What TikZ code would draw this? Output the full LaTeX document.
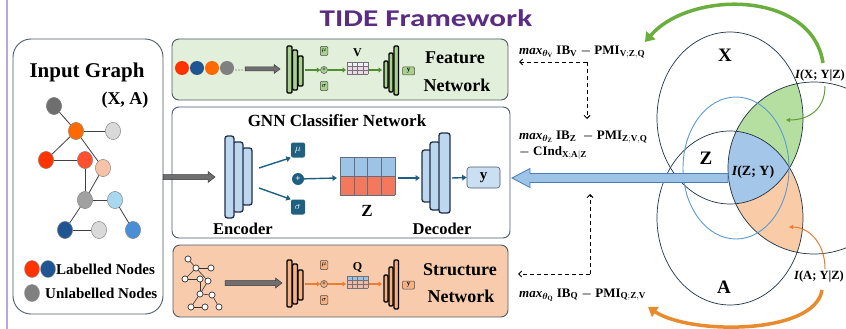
\documentclass[tikz,border=0pt]{standalone}
\usepackage{amsmath}
\usepackage{bm}
\usepackage{graphicx}
\usepackage{fontspec}
\setmainfont{Liberation Serif}
\newfontfamily\titlefont{Carlito}
\usetikzlibrary{arrows.meta,calc,shapes.geometric}
\definecolor{ttl}{HTML}{5B2C83}
\definecolor{lav}{HTML}{B9A6DC}
\definecolor{boxln}{HTML}{4F5B66}
\definecolor{fgreen}{HTML}{E2EFDA}
\definecolor{sorange}{HTML}{F8CBAD}
\definecolor{tealc}{HTML}{1F5F7F}
\definecolor{plblue}{HTML}{BDD7EE}
\definecolor{navy}{HTML}{1F2F4A}
\definecolor{zblue}{HTML}{9DC3E6}
\definecolor{zred}{HTML}{F4785C}
\definecolor{ggreen}{HTML}{A9D18E}
\definecolor{gdark}{HTML}{4E8F2E}
\definecolor{oarr}{HTML}{ED7D31}
\definecolor{obox}{HTML}{F4B183}
\definecolor{vgreen}{HTML}{B4DFA0}
\definecolor{vorange}{HTML}{F9CBA7}
\definecolor{vblue}{HTML}{A4C6E8}
\definecolor{vline}{HTML}{1F3344}
\definecolor{zline}{HTML}{5B9BD5}
\definecolor{bluedk}{HTML}{4A7EB5}
\definecolor{garr}{HTML}{6F6F6F}
\definecolor{garrd}{HTML}{3A3A3A}
\definecolor{vgarrow}{HTML}{6AAE3E}
\definecolor{voarrow}{HTML}{E88B2E}
\definecolor{vpink}{HTML}{EED8EA}
\definecolor{qpink}{HTML}{F2B8A8}
\definecolor{qblue}{HTML}{9DC3E6}
% sub-network (feature / structure)
\newcommand{\subnet}[7]{%
\begin{scope}[yshift=#2]
 \draw[plate,fill=#4] (298,56) rectangle (303,86);
 \draw[plate,fill=#4] (292.5,50) rectangle (297.5,90);
 \draw[plate,fill=#4] (287,46) rectangle (292,93);
 \coordinate (#1eo) at (305,70);
 \node[mbox,fill=#4] (#1mu) at (324,51) {$\mu$};
 \node[mcirc,fill=#4] (#1pl) at (324,70) {+};
 \node[mbox,fill=#4] (#1sg) at (324,86) {$\sigma$};
 \draw[marr,#3] (#1eo) -- (#1pl);
 \fill[#6] (347,62) rectangle (368,66);
 \fill[#7] (347,66) rectangle (368,74);
 \foreach \gx in {347,352.25,357.5,362.75,368} \draw[gl] (\gx,62) -- (\gx,74);
 \foreach \gy in {62,66,70,74} \draw[gl] (347,\gy) -- (368,\gy);
 \coordinate (#1gw) at (346,70);
 \coordinate (#1ge) at (369,70);
 \node[lbl=12] (#1lt) at (357.5,53) {#5};
 \draw[marr,#3] (#1pl) -- (#1gw);
 \coordinate (#1di) at (382,70);
 \draw[marr,#3] (#1ge) -- (#1di);
 \draw[plate,fill=#4] (384,61) rectangle (388,88);
 \draw[plate,fill=#4] (389,53) rectangle (393,92);
 \draw[plate,fill=#4] (394,46) rectangle (398.5,95);
 \node[ybox,fill=#4] (#1y) at (408.5,71) {y};
\end{scope}}
% fat right arrow: from, to, half shaft, half head, head length
\newcommand{\fatR}[5]{%
 \draw[fill=garr,draw=garrd,line width=0.5pt] ($(#1)+(0,-#3)$) -- ($(#2)+(-#5,-#3)$) -- ($(#2)+(-#5,-#4)$) -- (#2) -- ($(#2)+(-#5,#4)$) -- ($(#2)+(-#5,#3)$) -- ($(#1)+(0,#3)$) -- cycle;}
\newcommand{\mxf}[1]{\textbf{\textit{max}}$_{\bm{\theta}_{\mathbf{#1}}}$}
\begin{document}
\begin{tikzpicture}[x=1pt,y=-1pt,
 lbl/.style={font=\fontsize{#1}{#1}\selectfont\bfseries, inner sep=0pt},
 gn/.style={ellipse, minimum width=15pt, minimum height=17pt, inner sep=0pt, draw=black!45, line width=0.4pt},
 ge/.style={draw=black!75, line width=0.8pt},
 sn/.style={circle, minimum size=6pt, inner sep=0pt, fill=white, draw=black!80, line width=0.6pt},
 se/.style={draw=black!80, line width=0.6pt},
 bigbox/.style={draw=boxln, line width=0.9pt, rounded corners=7pt, inner sep=0pt},
 plate/.style={draw=black, line width=1.4pt, rounded corners=1.2pt},
 bplate/.style={draw=navy, line width=1.3pt, fill=plblue, rounded corners=2.5pt},
 marr/.style={line width=1.3pt, -{Triangle[length=3.5pt,width=5pt]}},
 tarr/.style={draw=tealc, line width=1.4pt, -{Triangle[length=4.5pt,width=5.5pt]}},
 darr/.style={draw=black, line width=0.9pt, dash pattern=on 4pt off 3pt, -{Straight Barb[length=3pt,width=6pt]}},
 gl/.style={draw=black!55, line width=0.35pt},
 mbox/.style={draw=black!70, line width=0.5pt, rounded corners=1pt, minimum width=7.5pt, minimum height=9pt, inner sep=0pt, font=\fontsize{7}{7}\selectfont},
 mcirc/.style={circle, draw=black!70, line width=0.5pt, minimum size=7pt, inner sep=0pt, font=\fontsize{6}{6}\selectfont\bfseries},
 ybox/.style={draw=black!70, line width=0.5pt, rounded corners=1pt, minimum width=12pt, minimum height=8pt, inner sep=0pt, font=\fontsize{7}{7}\selectfont\bfseries},
 tbox/.style={fill=tealc, rounded corners=2pt, minimum width=14pt, minimum height=15pt, inner sep=0pt, text=white, font=\fontsize{10}{10}\selectfont},
 fml/.style={anchor=west, inner sep=0pt, font=\fontsize{13}{13}\selectfont\bfseries},
 vl/.style={font=\fontsize{14}{14}\selectfont\bfseries, inner sep=0pt}
]
\useasboundingbox (0,0) rectangle (846,329);
% left purple line
\coordinate (lt) at (7,0); \coordinate (lb) at (7,329);
\draw[lav, line width=1.5pt] (lt) -- (lb);
% title
\node[font=\titlefont\fontsize{24}{26}\selectfont\bfseries, text=ttl, inner sep=0pt] (title) at (426,18) {\scalebox{1.3}[1]{TIDE Framework}};

% ===== Input graph =====
\node[bigbox, rounded corners=18pt, minimum width=150pt, minimum height=275pt, fill=white] (inbox) at (88,176.5) {};
\node[lbl=21] (ig) at (87,72) {Input Graph};
\node[lbl=18] (xa) at (125,100) {(X, A)};
\node[gn, fill=black!57] (n1) at (54,106) {};
\node[gn, fill={rgb,255:red,255;green,106;blue,0}] (n2) at (76,131) {};
\node[gn, fill=black!15] (n3) at (113,131) {};
\node[gn, fill={rgb,255:red,255;green,51;blue,0}] (n4) at (46,160) {};
\node[gn, fill={rgb,255:red,255;green,80;blue,48}] (n5) at (85,160) {};
\node[gn, fill={rgb,255:red,247;green,195;blue,168}] (n6) at (103,168) {};
\node[gn, fill=black!37] (n7) at (85,200) {};
\node[gn, fill={rgb,255:red,168;green,216;blue,240}] (n8) at (115,200) {};
\node[gn, fill={rgb,255:red,31;green,85;blue,144}] (n9) at (65,230) {};
\node[gn, fill=black!15] (n10) at (99,230) {};
\node[gn, fill={rgb,255:red,74;green,143;blue,214}] (n11) at (133,230) {};
\foreach \a/\b in {n1/n2,n2/n3,n2/n4,n4/n5,n2/n6,n5/n7,n6/n7,n7/n8,n7/n9,n9/n10,n8/n11}
  \draw[ge] (\a) -- (\b);
% redraw nodes over edges
\foreach \n/\c in {n1/black!57,n3/black!15,n7/black!37,n10/black!15}
  \node[gn, fill=\c] at (\n) {};
\node[gn, fill={rgb,255:red,255;green,106;blue,0}] at (n2) {};
\node[gn, fill={rgb,255:red,255;green,51;blue,0}] at (n4) {};
\node[gn, fill={rgb,255:red,255;green,80;blue,48}] at (n5) {};
\node[gn, fill={rgb,255:red,247;green,195;blue,168}] at (n6) {};
\node[gn, fill={rgb,255:red,168;green,216;blue,240}] at (n8) {};
\node[gn, fill={rgb,255:red,31;green,85;blue,144}] at (n9) {};
\node[gn, fill={rgb,255:red,74;green,143;blue,214}] at (n11) {};
% legend
\node[gn, fill={rgb,255:red,255;green,51;blue,0}] (lg1) at (32,269) {};
\node[gn, fill={rgb,255:red,31;green,85;blue,144}] (lg2) at (48,269) {};
\node[gn, fill=black!50] (lg3) at (32,293) {};
\node[lbl=15, anchor=west] (lgt1) at (56,269.5) {Labelled Nodes};
\node[lbl=15, anchor=west] (lgt2) at (45,293.5) {Unlabelled Nodes};

% ===== Feature network =====
\node[bigbox, fill=fgreen, minimum width=336pt, minimum height=61pt] (fbox) at (340,69.5) {};
\node[circle, minimum size=14pt, fill={rgb,255:red,255;green,51;blue,0}] (fc1) at (182,68) {};
\node[circle, minimum size=14pt, fill={rgb,255:red,31;green,85;blue,144}] (fc2) at (197,68) {};
\node[circle, minimum size=14pt, fill={rgb,255:red,255;green,106;blue,0}] (fc3) at (212,68) {};
\node[circle, minimum size=14pt, fill=black!50] (fc4) at (227,68) {};
\foreach \dx in {236,239,242} \fill[black!70] (\dx,70) circle (0.7pt);
\coordinate (fa1) at (245,69); \coordinate (fa2) at (280,69);
\fatR{fa1}{fa2}{2}{4.5}{6}
\subnet{f}{0pt}{gdark}{ggreen}{V}{vpink!80!blue!20}{vpink}
\node[lbl=18] (ft1) at (455,58) {Feature};
\node[lbl=18] (ft2) at (457,85) {Network};

% ===== Structure network =====
\node[bigbox, fill=sorange, minimum width=335pt, minimum height=72pt] (sbox) at (340.5,281) {};
\node[sn] (s1) at (188,259) {};
\node[sn] (s2) at (196,268) {};
\node[sn] (s3) at (211,268) {};
\node[sn] (s4) at (185,279) {};
\node[sn] (s5) at (200,279) {};
\node[sn] (s6) at (208,281) {};
\node[sn] (s7) at (200,294) {};
\node[sn] (s8) at (212,295) {};
\node[sn] (s9) at (191,307) {};
\node[sn] (s10) at (205,307) {};
\node[sn] (s11) at (219,307) {};
\foreach \a/\b in {s1/s2,s2/s3,s2/s4,s4/s5,s2/s6,s5/s7,s6/s7,s7/s8,s7/s9,s9/s10,s8/s11}
  \draw[se] (\a) -- (\b);
\foreach \n in {s1,s2,s3,s4,s5,s6,s7,s8,s9,s10,s11} \node[sn] at (\n) {};
\coordinate (sa1) at (225,283); \coordinate (sa2) at (282,283);
\fatR{sa1}{sa2}{2.5}{5}{6.5}
\subnet{q}{-214pt}{oarr}{obox}{Q}{qblue}{qpink}
\node[lbl=18] (st1) at (460,270) {Structure};
\node[lbl=18] (st2) at (461,296) {Network};

% ===== GNN classifier =====
\node[bigbox, draw=navy!80, fill=white, minimum width=338pt, minimum height=131pt] (gbox) at (341,172.5) {};
\node[lbl=17] (gt) at (337,121) {GNN Classifier Network};
\coordinate (ga1) at (163,177); \coordinate (ga2) at (215,177);
\fatR{ga1}{ga2}{2.5}{5.5}{7}
\draw[bplate] (242,148) rectangle (252,205);
\draw[bplate] (233,142) rectangle (243,212);
\draw[bplate] (225,136) rectangle (234,218);
\node[lbl=16.5] (enc) at (243,229) {Encoder};
\node[tbox] (gmu) at (298,150) {$\mu$};
\node[tbox, circle, minimum size=12pt, font=\fontsize{9}{9}\selectfont\bfseries] (gpl) at (298,179) {+};
\node[tbox] (gsg) at (298,207) {$\sigma$};
\coordinate (eo1) at (259,168); \coordinate (eo2) at (259,188);
\draw[tarr] (eo1) -- (gmu.south west);
\draw[tarr] (eo2) -- (gsg.north west);
\fill[zblue] (340,157) rectangle (395,176);
\fill[zred] (340,176) rectangle (395,195);
\foreach \gx in {340,353.75,367.5,381.25,395} \draw[draw=navy!70, line width=0.5pt] (\gx,157) -- (\gx,195);
\foreach \gy in {157,176,195} \draw[draw=navy!70, line width=0.5pt] (340,\gy) -- (395,\gy);
\coordinate (zw) at (337,178); \coordinate (ze) at (398,178);
\draw[tarr] (gpl) -- (zw);
\node[lbl=17] (zl) at (367,211) {Z};
\coordinate (dci) at (420,178);
\draw[tarr] (ze) -- (dci);
\draw[bplate] (422,150) rectangle (432,202);
\draw[bplate] (430,142) rectangle (440,210);
\draw[bplate] (439,133) rectangle (450,213);
\node[lbl=16.5] (dec) at (442,229) {Decoder};
\node[draw=navy!80, line width=0.6pt, fill=plblue!80!white, rounded corners=3pt, minimum width=33pt, minimum height=21pt, inner sep=0pt, font=\fontsize{15}{15}\selectfont\bfseries] (gy) at (483.5,177.5) {y};
\coordinate (dco) at (452,178);
\draw[tarr] (dco) -- (gy.west);

% ===== formulas and dashed arrows =====
\node[fml] (fv) at (519,52) {\mxf{V} \textbf{IB}$_{\mathbf{V}}$ $\bm{-}$ \textbf{PMI}$_{\mathbf{V;Z,Q}}$};
\node[fml] (fz1) at (519,137) {\mxf{Z} \textbf{IB}$_{\mathbf{Z}}$ \ $\bm{-}$ \textbf{PMI}$_{\mathbf{Z;V,Q}}$};
\node[fml] (fz2) at (519,153) {$\bm{-}$ \textbf{CInd}$_{\mathbf{X;A|Z}}$};
\node[fml] (fq) at (519,295) {\mxf{Q} \textbf{IB}$_{\mathbf{Q}}$ $\bm{-}$ \textbf{PMI}$_{\mathbf{Q;Z,V}}$};
\coordinate (cv) at (587,62); \coordinate (cvl) at (519,62); \coordinate (cvd) at (587,119);
\draw[darr] (cv) -- (cvl);
\draw[darr] (cv) -- (cvd);
\coordinate (cq) at (590,274); \coordinate (cql) at (518,274); \coordinate (cqu) at (590,194);
\draw[darr] (cq) -- (cql);
\draw[darr] (cq) -- (cqu);

% ===== Venn =====
\coordinate (cX) at (730,118);
\coordinate (cA) at (730,218);
\coordinate (cY) at (814,168);
\coordinate (cZ) at (736,168);
\begin{scope}
 \clip (cX) ellipse [x radius=73pt, y radius=86pt];
 \clip (cY) circle [radius=86pt];
 \fill[vgreen] (600,0) rectangle (846,329);
\end{scope}
\begin{scope}
 \clip (cA) ellipse [x radius=73pt, y radius=87pt];
 \clip (cY) circle [radius=86pt];
 \fill[vorange] (600,0) rectangle (846,329);
 \clip (cX) ellipse [x radius=73pt, y radius=86pt];
 \fill[vblue] (600,0) rectangle (846,329);
\end{scope}
\draw[vline, line width=0.7pt] (cX) ellipse [x radius=73pt, y radius=86pt];
\draw[vline, line width=0.7pt] (cA) ellipse [x radius=73pt, y radius=87pt];
\draw[vline, line width=0.7pt] (cY) circle [radius=86pt];
\draw[zline, line width=0.9pt] (cZ) ellipse [x radius=53pt, y radius=71pt];
\node[lbl=19] (vx) at (725,55) {X};
\node[lbl=19] (vz) at (706,158) {Z};
\node[lbl=19] (va) at (724,287) {A};
\node[vl] (izy) at (753,172) {{\itshape I}(Z; Y)};
\node[vl, font=\fontsize{12.5}{12.5}\selectfont\bfseries, anchor=west] (ixy) at (795,76) {{\itshape I}(X; Y|Z)};
\node[vl, font=\fontsize{12.5}{12.5}\selectfont\bfseries, anchor=west] (iay) at (794,277) {{\itshape I}(A; Y|Z)};
% big blue arrow
\coordinate (bs) at (728,178); \coordinate (bt) at (512,178);
\draw[draw=bluedk, fill=zblue, line width=0.8pt] ($(bs)+(0,-4.5)$) -- ($(bt)+(18,-4.5)$) -- ($(bt)+(18,-9.5)$) -- (bt) -- ($(bt)+(18,9.5)$) -- ($(bt)+(18,4.5)$) -- ($(bs)+(0,4.5)$) -- cycle;
% curved arrows
\coordinate (gc1) at (823,63); \coordinate (gc2) at (645,42);
\draw[vgarrow, line width=3.5pt, -{Triangle[length=9pt,width=12pt]}] (gc1) .. controls (812,-10) and (690,-10) .. (gc2);
\coordinate (oc1) at (822,290); \coordinate (oc2) at (648,307);
\draw[voarrow, line width=3.5pt, -{Triangle[length=9pt,width=12pt]}] (oc1) .. controls (815,335) and (690,335) .. (oc2);
\coordinate (sg1) at (825,86); \coordinate (sg2) at (786,120);
\draw[vgarrow!90!black, line width=1pt, -{Triangle[length=4pt,width=4pt]}] (sg1) .. controls (825,110) and (808,120) .. (sg2);
\coordinate (so1) at (825,269); \coordinate (so2) at (789,227);
\draw[oarr, line width=1pt, -{Triangle[length=4pt,width=4pt]}] (so1) .. controls (825,242) and (808,227) .. (so2);
\end{tikzpicture}
\end{document}
